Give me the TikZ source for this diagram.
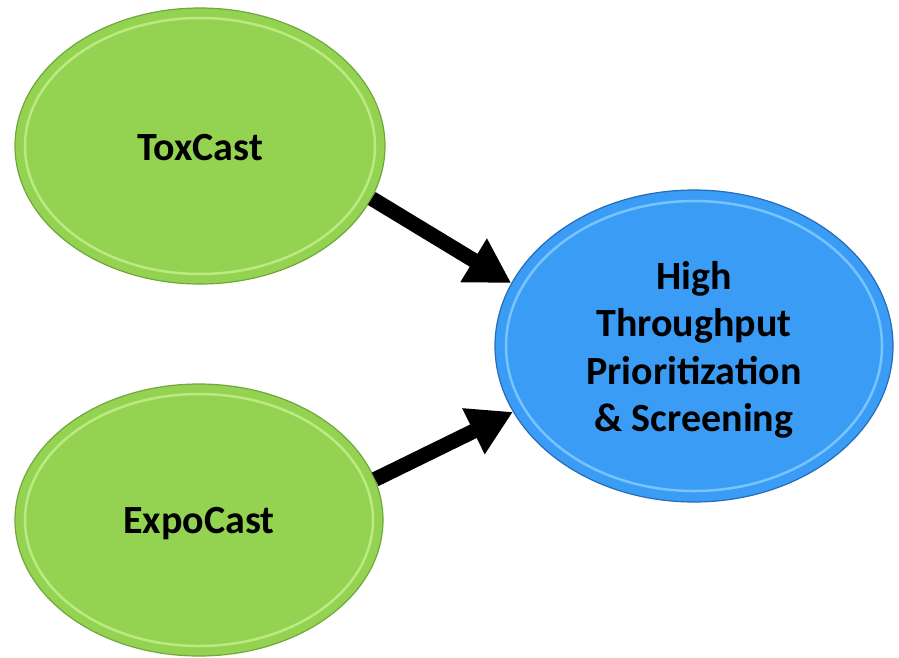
\documentclass[tikz,border=0pt]{standalone}
\usepackage{fontspec}
\setmainfont{Carlito}
\usetikzlibrary{shapes.geometric,arrows.meta}
\definecolor{greenfill}{RGB}{148,210,82}
\definecolor{greenedge}{RGB}{112,168,60}
\definecolor{greenhi}{RGB}{188,234,130}
\definecolor{bluefill}{RGB}{58,156,245}
\definecolor{blueedge}{RGB}{38,108,185}
\definecolor{bluehi}{RGB}{120,196,255}
\begin{document}
\begin{tikzpicture}[x=1pt,y=-1pt,
  oval/.style={ellipse, inner sep=0pt, draw=#1edge, fill=#1fill, line width=1.2pt},
  rim/.style={#1hi, line width=2.5pt},
  label/.style={font=\bfseries\fontsize{40}{48}\selectfont, align=center},
  link/.style={line width=15pt, -{Triangle[width=48pt,length=44pt]}}
]
\useasboundingbox (0,0) rectangle (899,657);
\node[oval=green, minimum width=370pt, minimum height=276pt] (tox) at (200,146) {};
\node[oval=green, minimum width=368pt, minimum height=272pt] (expo) at (199,520) {};
\node[oval=blue, minimum width=398pt, minimum height=312pt] (hts) at (694,346) {};
\draw[rim=green] (tox.center) ellipse [x radius=175, y radius=128];
\draw[rim=green] (expo.center) ellipse [x radius=174, y radius=126];
\draw[rim=blue] (hts.center) ellipse [x radius=188, y radius=145];
\node[label] (toxlabel) at ([yshift=-2pt]tox.center) {ToxCast};
\node[label] (expolabel) at ([yshift=-4pt]expo.center) {ExpoCast};
\node[label, font=\bfseries\fontsize{40}{47.5}\selectfont] (htslabel) at ([yshift=-4pt]hts.center) {High\\Throughput\\Prioritization\\\& Screening};
\draw[link] (tox.-17) -- (hts.161);
\draw[link] (expo.13) -- (hts.-160);
\end{tikzpicture}
\end{document}
